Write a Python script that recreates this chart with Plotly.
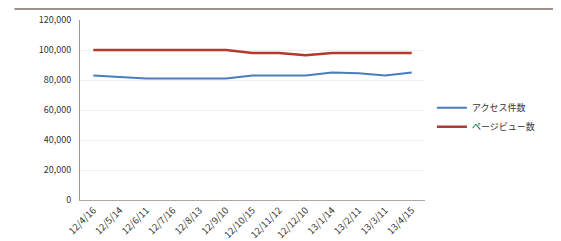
import plotly.graph_objects as go

categories = ["12/4/16", "12/5/14", "12/6/11", "12/7/16", "12/8/13", "12/9/10",
              "12/10/15", "12/11/12", "12/12/10", "13/1/14", "13/2/11", "13/3/11",
              "13/4/15"]
series_blue = [83000, 82000, 81000, 81000, 81000, 81000, 83000, 83000, 83000, 85000, 84500, 83000, 85000]
series_red = [100000, 100000, 100000, 100000, 100000, 100000, 98000, 98000, 96500, 98000, 98000, 98000, 98000]
name_blue = "アクセス件数"
name_red = "ページビュー数"
y_ticks = [0, 20000, 40000, 60000, 80000, 100000, 120000]

fig = go.Figure()
fig.add_trace(go.Scatter(x=categories, y=series_blue, mode="lines", name=name_blue,
                         line=dict(color="#4a7ebb", width=2)))
fig.add_trace(go.Scatter(x=categories, y=series_red, mode="lines", name=name_red,
                         line=dict(color="#b3392f", width=2.5)))

# page is offset by the default 8px body margin; margins compensate for it
fig.update_layout(
    width=561, height=241,
    margin=dict(l=72, r=144, t=12, b=49, autoexpand=False),
    paper_bgcolor="white", plot_bgcolor="white",
    font=dict(family="Noto Sans CJK JP", size=9, color="#333333"),
    legend=dict(x=1.02, y=0.46, yanchor="middle", xanchor="left",
                font=dict(size=9), tracegroupgap=0, itemwidth=30,
                bgcolor="rgba(0,0,0,0)"),
    xaxis=dict(type="category", range=[-0.5, 12.5], tickangle=-45, automargin=False,
               showline=True, linecolor="#b0a8a0", linewidth=1,
               showgrid=False, ticks="", tickfont=dict(size=9.5)),
    yaxis=dict(range=[0, 120000], tickvals=y_ticks, tickformat=",d", automargin=False,
               showline=True, linecolor="#a09890", linewidth=1,
               showgrid=True, gridcolor="#f1eeee", gridwidth=1,
               zeroline=False, ticks="", tickfont=dict(size=9),
               ticklabelstandoff=6),
    shapes=[dict(type="line", xref="paper", yref="paper", x0=-0.19, x1=1.5,
                 y0=(192 - 1) / 180, y1=(192 - 1) / 180,
                 line=dict(color="#a09090", width=2))],
)

fig.write_html("out.html")
